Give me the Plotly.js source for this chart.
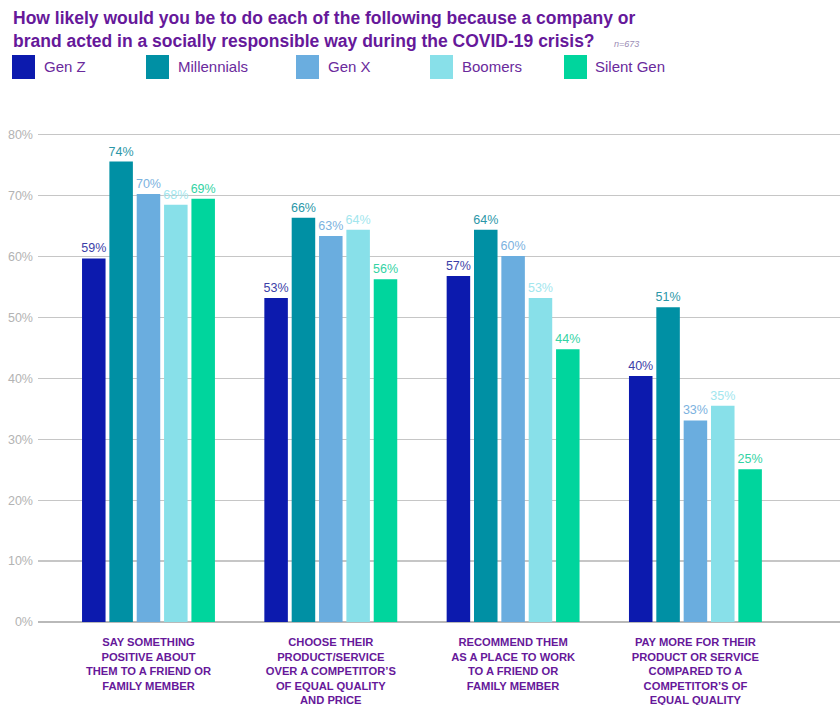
<!DOCTYPE html>
<html>
<head>
<meta charset="utf-8">
<script src="https://cdn.plot.ly/plotly-3.0.1.min.js"></script>
<style>
  html, body { margin: 0; padding: 0; background: #ffffff; }
  #chart { width: 840px; height: 705px; }
</style>
</head>
<body>
<div id="chart"></div>
<script>
// ---- Data ----
const categories = [
  "SAY SOMETHING<br>POSITIVE ABOUT<br>THEM TO A FRIEND OR<br>FAMILY MEMBER",
  "CHOOSE THEIR<br>PRODUCT/SERVICE<br>OVER A COMPETITOR’S<br>OF EQUAL QUALITY<br>AND PRICE",
  "RECOMMEND THEM<br>AS A PLACE TO WORK<br>TO A FRIEND OR<br>FAMILY MEMBER",
  "PAY MORE FOR THEIR<br>PRODUCT OR SERVICE<br>COMPARED TO A<br>COMPETITOR’S OF<br>EQUAL QUALITY"
];
const seriesNames = ["Gen Z", "Millennials", "Gen X", "Boomers", "Silent Gen"];

// bar heights as drawn (percent)
const genZ        = [59.7, 53.2, 56.8, 40.4];
const millennials = [75.6, 66.4, 64.4, 51.7];
const genX        = [70.3, 63.4, 60.1, 33.1];
const boomers     = [68.5, 64.4, 53.2, 35.5];
const silentGen   = [69.5, 56.3, 44.8, 25.1];

// printed value labels
const genZLabels        = ["59%", "53%", "57%", "40%"];
const millennialsLabels = ["74%", "66%", "64%", "51%"];
const genXLabels        = ["70%", "63%", "60%", "33%"];
const boomersLabels     = ["68%", "64%", "53%", "35%"];
const silentGenLabels   = ["69%", "56%", "44%", "25%"];

const yTickVals = [0, 10, 20, 30, 40, 50, 60, 70, 80];

const titleLine1 = "How likely would you be to do each of the following because a company or";
const titleLine2 = "brand acted in a socially responsible way during the COVID-19 crisis?";
const sampleNote = "n=673";

// ---- Styles ----
const barColors   = ["#0c1aae", "#0090a4", "#6aaddf", "#88e0e9", "#00d59d"];
const labelColors = ["#3c3fa8", "#2b97a8", "#7cb2e0", "#a2e6ee", "#34d3a4"];
const purple = "#66189a";
const legendPurple = "#6a2a9c";
const FONT = "Liberation Sans, Arial, sans-serif";

const seriesValues = [genZ, millennials, genX, boomers, silentGen];
const seriesLabels = [genZLabels, millennialsLabels, genXLabels, boomersLabels, silentGenLabels];

const traces = seriesNames.map((name, i) => ({
  type: "bar",
  name: name,
  x: categories,
  y: seriesValues[i],
  text: seriesLabels[i],
  textposition: "outside",
  constraintext: "none",
  cliponaxis: false,
  textfont: { family: FONT, size: 12.5, color: labelColors[i] },
  marker: { color: barColors[i] },
  hoverinfo: "skip",
  showlegend: false
}));

// ---- pixel helpers (mapped into paper coords) ----
const yMax = 80.3;
const plotL = 38, plotR = 840, plotB = 622;
const plotT = Math.round(plotB - yMax * (487 / 80));
const pxX = px => (px - plotL) / (plotR - plotL);
const pxY = py => (plotB - py) / (plotB - plotT);
const swatchX = [12, 146, 296, 430, 564];
const textX   = [42, 176, 326, 460, 593];

const shapes = seriesNames.map((n, i) => ({
  type: "rect", xref: "paper", yref: "paper",
  x0: pxX(swatchX[i]), x1: pxX(swatchX[i] + 23),
  y0: pxY(79), y1: pxY(55),
  fillcolor: barColors[i], line: { width: 0 }
}));

const annotations = seriesNames.map((n, i) => ({
  xref: "paper", yref: "paper",
  x: pxX(textX[i]), y: pxY(67),
  xanchor: "left", yanchor: "middle",
  text: n, showarrow: false,
  font: { family: FONT, size: 15, color: legendPurple }
}));

annotations.push({
  xref: "paper", yref: "paper",
  x: pxX(11), y: pxY(6),
  xanchor: "left", yanchor: "top", align: "left",
  showarrow: false,
  text: "<b>" + titleLine1 + "<br>" + titleLine2 + "</b>" +
        "    <i><span style=\"font-size:9px;color:#9b8cb5\">" + sampleNote + "</span></i>",
  font: { family: FONT, size: 17.5, color: purple }
});

const layout = {
  width: 840, height: 705,
  paper_bgcolor: "#ffffff", plot_bgcolor: "#ffffff",
  margin: { l: plotL, r: 840 - plotR, t: plotT, b: 705 - plotB, pad: 0 },
  barmode: "group",
  bargap: 0.25,
  bargroupgap: 0.14,
  xaxis: {
    type: "category",
    range: [-0.606, 3.793],
    showgrid: false, zeroline: false, showline: false,
    ticks: "",
    ticklabelstandoff: 12,
    tickfont: { family: FONT, size: 11.2, color: purple, weight: "bold" },
    fixedrange: true
  },
  yaxis: {
    range: [0, yMax],
    tickvals: yTickVals,
    ticktext: yTickVals.map(v => v + "%"),
    showgrid: true, gridcolor: "#c6c6c6", gridwidth: 1.3,
    zeroline: true, zerolinecolor: "#b9b9b9", zerolinewidth: 1.5,
    showline: false, ticks: "",
    ticklabelstandoff: 4,
    tickfont: { family: FONT, size: 12.5, color: "#b3b3b3" },
    fixedrange: true
  },
  shapes: shapes,
  annotations: annotations,
  showlegend: false
};

Plotly.newPlot("chart", traces, layout, { displayModeBar: false, staticPlot: true });
</script>
</body>
</html>
